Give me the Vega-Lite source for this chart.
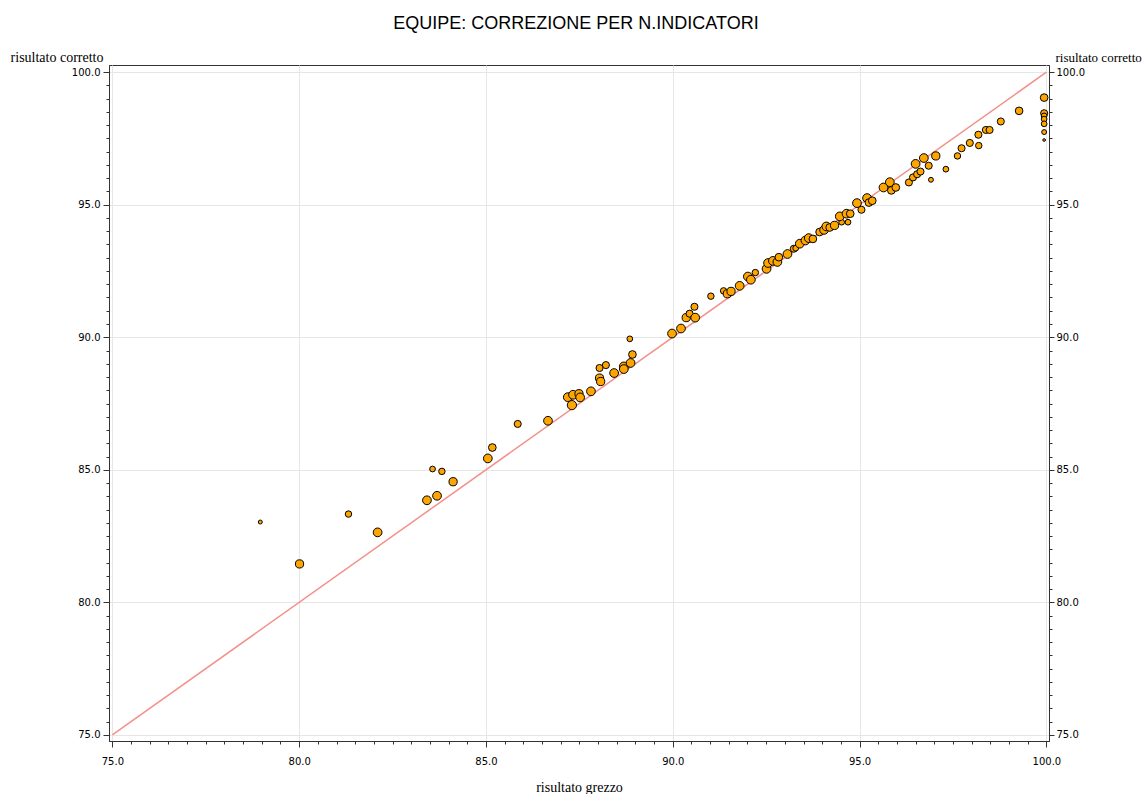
{
  "$schema": "https://vega.github.io/schema/vega-lite/v6.json",
  "width": 940,
  "height": 676,
  "autosize": "none",
  "padding": {"left": 109, "top": 65, "right": 97, "bottom": 53},
  "background": "white",
  "title": {"text": "EQUIPE: CORREZIONE PER N.INDICATORI", "font": "Liberation Sans", "fontSize": 18, "fontWeight": "normal", "color": "#000", "frame": "group", "anchor": "middle", "offset": 17, "dx": -3},
  "config": {
    "view": {"stroke": "#333", "strokeWidth": 1},
    "axis": {
      "domainColor": "#333",
      "tickColor": "#333",
      "labelFont": "DejaVu Sans",
      "labelFontSize": 10,
      "labelColor": "#000",
      "titleFont": "Liberation Serif",
      "titleFontSize": 14,
      "titleFontWeight": "normal",
      "titleColor": "#000",
      "gridColor": "#e6e6e6",
      "gridWidth": 1,
      "tickCount": 200
    }
  },
  "datasets": {
    "diag": [{"grezzo": 75, "corretto": 75}, {"grezzo": 100, "corretto": 100}],
    "points": [
      {"grezzo": 78.96, "corretto": 83.03, "n": 2},
      {"grezzo": 80.01, "corretto": 81.45, "n": 8},
      {"grezzo": 81.32, "corretto": 83.33, "n": 5},
      {"grezzo": 82.10, "corretto": 82.64, "n": 9},
      {"grezzo": 83.57, "corretto": 85.03, "n": 4},
      {"grezzo": 83.82, "corretto": 84.94, "n": 5},
      {"grezzo": 84.12, "corretto": 84.55, "n": 8},
      {"grezzo": 83.69, "corretto": 84.02, "n": 9},
      {"grezzo": 83.42, "corretto": 83.85, "n": 9},
      {"grezzo": 85.05, "corretto": 85.43, "n": 9},
      {"grezzo": 85.17, "corretto": 85.84, "n": 7},
      {"grezzo": 85.85, "corretto": 86.73, "n": 6},
      {"grezzo": 86.66, "corretto": 86.85, "n": 9},
      {"grezzo": 87.30, "corretto": 87.44, "n": 10},
      {"grezzo": 87.19, "corretto": 87.74, "n": 9},
      {"grezzo": 87.33, "corretto": 87.83, "n": 9},
      {"grezzo": 87.49, "corretto": 87.87, "n": 8},
      {"grezzo": 87.52, "corretto": 87.73, "n": 9},
      {"grezzo": 87.81, "corretto": 87.96, "n": 9},
      {"grezzo": 88.04, "corretto": 88.46, "n": 8},
      {"grezzo": 88.07, "corretto": 88.33, "n": 8},
      {"grezzo": 88.04, "corretto": 88.84, "n": 6},
      {"grezzo": 88.21, "corretto": 88.95, "n": 6},
      {"grezzo": 88.43, "corretto": 88.65, "n": 9},
      {"grezzo": 88.69, "corretto": 88.90, "n": 9},
      {"grezzo": 88.69, "corretto": 88.80, "n": 9},
      {"grezzo": 88.87, "corretto": 89.03, "n": 9},
      {"grezzo": 88.92, "corretto": 89.35, "n": 7},
      {"grezzo": 88.85, "corretto": 89.94, "n": 4},
      {"grezzo": 89.98, "corretto": 90.14, "n": 9},
      {"grezzo": 90.22, "corretto": 90.33, "n": 9},
      {"grezzo": 90.36, "corretto": 90.74, "n": 8},
      {"grezzo": 90.45, "corretto": 90.89, "n": 6},
      {"grezzo": 90.60, "corretto": 90.74, "n": 9},
      {"grezzo": 90.58, "corretto": 91.15, "n": 6},
      {"grezzo": 91.02, "corretto": 91.55, "n": 5},
      {"grezzo": 91.36, "corretto": 91.75, "n": 5},
      {"grezzo": 91.46, "corretto": 91.64, "n": 8},
      {"grezzo": 91.56, "corretto": 91.73, "n": 8},
      {"grezzo": 91.79, "corretto": 91.94, "n": 9},
      {"grezzo": 92.01, "corretto": 92.29, "n": 9},
      {"grezzo": 92.09, "corretto": 92.17, "n": 9},
      {"grezzo": 92.21, "corretto": 92.44, "n": 5},
      {"grezzo": 92.51, "corretto": 92.58, "n": 9},
      {"grezzo": 92.55, "corretto": 92.80, "n": 9},
      {"grezzo": 92.68, "corretto": 92.88, "n": 9},
      {"grezzo": 92.80, "corretto": 92.84, "n": 9},
      {"grezzo": 92.84, "corretto": 93.02, "n": 7},
      {"grezzo": 93.07, "corretto": 93.14, "n": 9},
      {"grezzo": 93.24, "corretto": 93.34, "n": 6},
      {"grezzo": 93.29, "corretto": 93.36, "n": 4},
      {"grezzo": 93.40, "corretto": 93.53, "n": 9},
      {"grezzo": 93.55, "corretto": 93.65, "n": 9},
      {"grezzo": 93.64, "corretto": 93.74, "n": 9},
      {"grezzo": 93.75, "corretto": 93.71, "n": 7},
      {"grezzo": 93.93, "corretto": 93.97, "n": 7},
      {"grezzo": 94.05, "corretto": 94.05, "n": 9},
      {"grezzo": 94.11, "corretto": 94.18, "n": 9},
      {"grezzo": 94.20, "corretto": 94.14, "n": 7},
      {"grezzo": 94.33, "corretto": 94.22, "n": 8},
      {"grezzo": 94.52, "corretto": 94.34, "n": 4},
      {"grezzo": 94.69, "corretto": 94.34, "n": 4},
      {"grezzo": 94.47, "corretto": 94.56, "n": 9},
      {"grezzo": 94.65, "corretto": 94.66, "n": 9},
      {"grezzo": 94.75, "corretto": 94.66, "n": 7},
      {"grezzo": 94.93, "corretto": 95.06, "n": 9},
      {"grezzo": 95.05, "corretto": 94.81, "n": 6},
      {"grezzo": 95.20, "corretto": 95.25, "n": 9},
      {"grezzo": 95.25, "corretto": 95.08, "n": 7},
      {"grezzo": 95.34, "corretto": 95.15, "n": 7},
      {"grezzo": 95.64, "corretto": 95.65, "n": 9},
      {"grezzo": 95.81, "corretto": 95.85, "n": 9},
      {"grezzo": 95.85, "corretto": 95.54, "n": 7},
      {"grezzo": 95.97, "corretto": 95.65, "n": 7},
      {"grezzo": 96.32, "corretto": 95.84, "n": 6},
      {"grezzo": 96.43, "corretto": 96.03, "n": 6},
      {"grezzo": 96.54, "corretto": 96.15, "n": 6},
      {"grezzo": 96.63, "corretto": 96.25, "n": 6},
      {"grezzo": 96.50, "corretto": 96.54, "n": 9},
      {"grezzo": 96.72, "corretto": 96.76, "n": 9},
      {"grezzo": 96.85, "corretto": 96.47, "n": 6},
      {"grezzo": 97.04, "corretto": 96.84, "n": 8},
      {"grezzo": 96.91, "corretto": 95.94, "n": 3},
      {"grezzo": 97.31, "corretto": 96.34, "n": 4},
      {"grezzo": 97.62, "corretto": 96.84, "n": 5},
      {"grezzo": 97.73, "corretto": 97.13, "n": 6},
      {"grezzo": 97.95, "corretto": 97.33, "n": 6},
      {"grezzo": 98.19, "corretto": 97.23, "n": 5},
      {"grezzo": 98.18, "corretto": 97.64, "n": 6},
      {"grezzo": 98.38, "corretto": 97.82, "n": 6},
      {"grezzo": 98.48, "corretto": 97.82, "n": 6},
      {"grezzo": 98.78, "corretto": 98.14, "n": 6},
      {"grezzo": 99.27, "corretto": 98.54, "n": 7},
      {"grezzo": 99.94, "corretto": 99.04, "n": 7},
      {"grezzo": 99.94, "corretto": 98.45, "n": 6},
      {"grezzo": 99.94, "corretto": 98.35, "n": 4},
      {"grezzo": 99.94, "corretto": 98.23, "n": 4},
      {"grezzo": 99.94, "corretto": 98.05, "n": 4},
      {"grezzo": 99.94, "corretto": 97.74, "n": 3},
      {"grezzo": 99.94, "corretto": 97.44, "n": 1}
    ]
  },
  "layer": [
    {
      "data": {"name": "diag"},
      "mark": {"type": "line", "color": "#f4908a", "strokeWidth": 1.5, "clip": true},
      "encoding": {
        "x": {"field": "grezzo", "type": "quantitative", "scale": {"domain": [74.91, 100.07], "nice": false, "zero": false},
          "axis": {"title": "risultato grezzo", "titleY": 50, "titleBaseline": "alphabetic", "tickCount": 200,
            "values": [75,75.5,76,76.5,77,77.5,78,78.5,79,79.5,80,80.5,81,81.5,82,82.5,83,83.5,84,84.5,85,85.5,86,86.5,87,87.5,88,88.5,89,89.5,90,90.5,91,91.5,92,92.5,93,93.5,94,94.5,95,95.5,96,96.5,97,97.5,98,98.5,99,99.5,100],
            "labelExpr": "datum.value % 5 === 0 ? format(datum.value, '.1f') : ''",
            "tickSize": {"condition": {"test": "datum.value % 5 === 0", "value": 6}, "value": 3},
            "gridOpacity": {"condition": {"test": "datum.value % 5 === 0", "value": 1}, "value": 0},
            "labelPadding": 9, "labelFlush": false, "labelOverlap": false}},
        "y": {"field": "corretto", "type": "quantitative", "scale": {"domain": [74.77, 100.27], "nice": false, "zero": false},
          "axis": {"orient": "left", "title": "risultato corretto", "titleAngle": 0, "titleAlign": "right", "titleBaseline": "alphabetic", "titleX": -6, "titleY": -4, "tickCount": 200,
            "values": [75,75.5,76,76.5,77,77.5,78,78.5,79,79.5,80,80.5,81,81.5,82,82.5,83,83.5,84,84.5,85,85.5,86,86.5,87,87.5,88,88.5,89,89.5,90,90.5,91,91.5,92,92.5,93,93.5,94,94.5,95,95.5,96,96.5,97,97.5,98,98.5,99,99.5,100],
            "labelExpr": "datum.value % 5 === 0 ? format(datum.value, '.1f') : ''",
            "tickSize": {"condition": {"test": "datum.value % 5 === 0", "value": 6}, "value": 3},
            "gridOpacity": {"condition": {"test": "datum.value % 5 === 0", "value": 1}, "value": 0},
            "labelPadding": 3, "labelFlush": false, "labelOverlap": false}}
      }
    },
    {
      "data": {"name": "points"},
      "mark": {"type": "circle", "fill": "#ffa500", "stroke": "#000", "strokeWidth": 1, "opacity": 1, "clip": false},
      "encoding": {
        "x": {"field": "grezzo", "type": "quantitative"},
        "y": {"field": "corretto", "type": "quantitative", "axis": null},
        "size": {"field": "n", "type": "quantitative", "scale": {"domain": [1, 10], "range": [7, 85], "zero": false}, "legend": null}
      }
    },
    {
      "data": {"name": "diag"},
      "mark": {"type": "line", "opacity": 0},
      "encoding": {
        "x": {"field": "grezzo", "type": "quantitative"},
        "y": {"field": "corretto", "type": "quantitative",
          "axis": {"orient": "right", "title": "risultato corretto", "titleAngle": 0, "titleAlign": "left", "titleBaseline": "alphabetic", "titleX": 6, "titleY": -4, "titleFontSize": 13, "grid": false, "tickCount": 200,
            "values": [75,75.5,76,76.5,77,77.5,78,78.5,79,79.5,80,80.5,81,81.5,82,82.5,83,83.5,84,84.5,85,85.5,86,86.5,87,87.5,88,88.5,89,89.5,90,90.5,91,91.5,92,92.5,93,93.5,94,94.5,95,95.5,96,96.5,97,97.5,98,98.5,99,99.5,100],
            "labelExpr": "datum.value % 5 === 0 ? format(datum.value, '.1f') : ''",
            "tickSize": {"condition": {"test": "datum.value % 5 === 0", "value": 5}, "value": 3},
            "labelPadding": 2, "labelFlush": false, "labelOverlap": false}}
      }
    }
  ],
  "resolve": {"axis": {"y": "independent"}}
}
